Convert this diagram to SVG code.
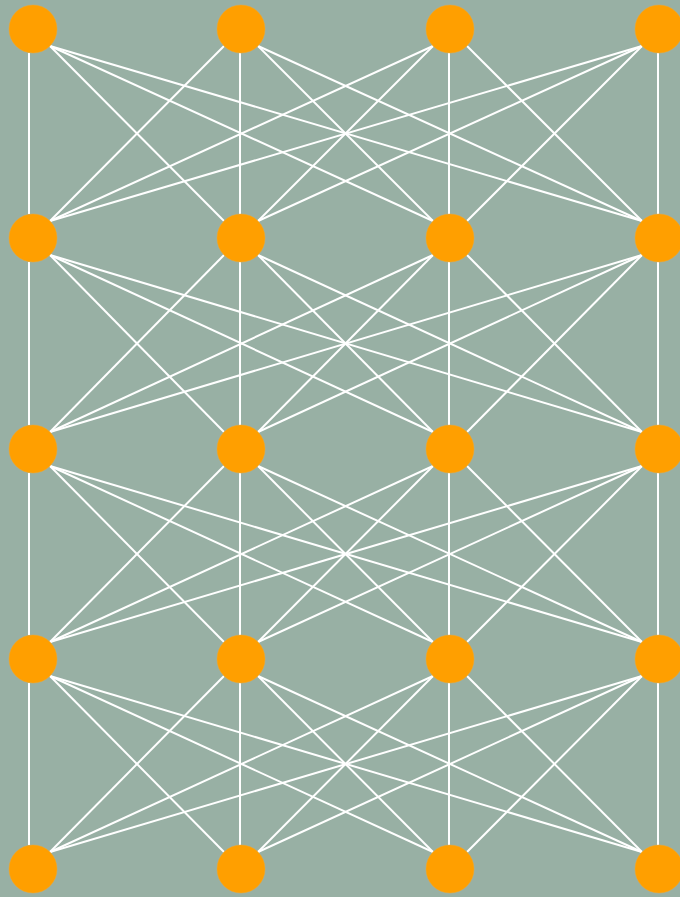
<svg xmlns="http://www.w3.org/2000/svg" width="680" height="897" viewBox="0 0 680 897">
<style>
.bg{fill:#98b0a4}
.n{fill:#ff9f00;stroke:#f5a62a;stroke-width:0.5}
.e line{stroke:#ffffff;stroke-width:2;stroke-linecap:butt}
</style>
<rect class="bg" x="0" y="0" width="680" height="897"/>
<g id="connectors" class="e">
<!-- layer 1 -> 2 -->
<line x1="29" y1="53" x2="29" y2="214"/>
<line x1="240" y1="53" x2="240" y2="214"/>
<line x1="449" y1="53" x2="449" y2="214"/>
<line x1="658" y1="53" x2="658" y2="214"/>
<line x1="50" y1="46" x2="224" y2="221"/>
<line x1="50" y1="46" x2="433" y2="221"/>
<line x1="50" y1="46" x2="642" y2="221"/>
<line x1="224" y1="46" x2="50" y2="221"/>
<line x1="258" y1="46" x2="433" y2="221"/>
<line x1="258" y1="46" x2="642" y2="221"/>
<line x1="433" y1="46" x2="50" y2="221"/>
<line x1="433" y1="46" x2="258" y2="221"/>
<line x1="467" y1="46" x2="642" y2="221"/>
<line x1="642" y1="46" x2="50" y2="221"/>
<line x1="642" y1="46" x2="258" y2="221"/>
<line x1="642" y1="46" x2="467" y2="221"/>
<!-- layer 2 -> 3 -->
<line x1="29" y1="262" x2="29" y2="425"/>
<line x1="240" y1="262" x2="240" y2="425"/>
<line x1="449" y1="262" x2="449" y2="425"/>
<line x1="658" y1="262" x2="658" y2="425"/>
<line x1="50" y1="255" x2="224" y2="432"/>
<line x1="50" y1="255" x2="433" y2="432"/>
<line x1="50" y1="255" x2="642" y2="432"/>
<line x1="224" y1="255" x2="50" y2="432"/>
<line x1="258" y1="255" x2="433" y2="432"/>
<line x1="258" y1="255" x2="642" y2="432"/>
<line x1="433" y1="255" x2="50" y2="432"/>
<line x1="433" y1="255" x2="258" y2="432"/>
<line x1="467" y1="255" x2="642" y2="432"/>
<line x1="642" y1="255" x2="50" y2="432"/>
<line x1="642" y1="255" x2="258" y2="432"/>
<line x1="642" y1="255" x2="467" y2="432"/>
<!-- layer 3 -> 4 -->
<line x1="29" y1="473" x2="29" y2="635"/>
<line x1="240" y1="473" x2="240" y2="635"/>
<line x1="449" y1="473" x2="449" y2="635"/>
<line x1="658" y1="473" x2="658" y2="635"/>
<line x1="50" y1="466" x2="224" y2="642"/>
<line x1="50" y1="466" x2="433" y2="642"/>
<line x1="50" y1="466" x2="642" y2="642"/>
<line x1="224" y1="466" x2="50" y2="642"/>
<line x1="258" y1="466" x2="433" y2="642"/>
<line x1="258" y1="466" x2="642" y2="642"/>
<line x1="433" y1="466" x2="50" y2="642"/>
<line x1="433" y1="466" x2="258" y2="642"/>
<line x1="467" y1="466" x2="642" y2="642"/>
<line x1="642" y1="466" x2="50" y2="642"/>
<line x1="642" y1="466" x2="258" y2="642"/>
<line x1="642" y1="466" x2="467" y2="642"/>
<!-- layer 4 -> 5 -->
<line x1="29" y1="683" x2="29" y2="845"/>
<line x1="240" y1="683" x2="240" y2="845"/>
<line x1="449" y1="683" x2="449" y2="845"/>
<line x1="658" y1="683" x2="658" y2="845"/>
<line x1="50" y1="676" x2="224" y2="852"/>
<line x1="50" y1="676" x2="433" y2="852"/>
<line x1="50" y1="676" x2="642" y2="852"/>
<line x1="224" y1="676" x2="50" y2="852"/>
<line x1="258" y1="676" x2="433" y2="852"/>
<line x1="258" y1="676" x2="642" y2="852"/>
<line x1="433" y1="676" x2="50" y2="852"/>
<line x1="433" y1="676" x2="258" y2="852"/>
<line x1="467" y1="676" x2="642" y2="852"/>
<line x1="642" y1="676" x2="50" y2="852"/>
<line x1="642" y1="676" x2="258" y2="852"/>
<line x1="642" y1="676" x2="467" y2="852"/>
</g>
<g id="n1-1"><circle class="n" cx="33" cy="29" r="24"/></g>
<g id="n1-2"><circle class="n" cx="241" cy="29" r="24"/></g>
<g id="n1-3"><circle class="n" cx="450" cy="29" r="24"/></g>
<g id="n1-4"><circle class="n" cx="659" cy="29" r="24"/></g>
<g id="n2-1"><circle class="n" cx="33" cy="238" r="24"/></g>
<g id="n2-2"><circle class="n" cx="241" cy="238" r="24"/></g>
<g id="n2-3"><circle class="n" cx="450" cy="238" r="24"/></g>
<g id="n2-4"><circle class="n" cx="659" cy="238" r="24"/></g>
<g id="n3-1"><circle class="n" cx="33" cy="449" r="24"/></g>
<g id="n3-2"><circle class="n" cx="241" cy="449" r="24"/></g>
<g id="n3-3"><circle class="n" cx="450" cy="449" r="24"/></g>
<g id="n3-4"><circle class="n" cx="659" cy="449" r="24"/></g>
<g id="n4-1"><circle class="n" cx="33" cy="659" r="24"/></g>
<g id="n4-2"><circle class="n" cx="241" cy="659" r="24"/></g>
<g id="n4-3"><circle class="n" cx="450" cy="659" r="24"/></g>
<g id="n4-4"><circle class="n" cx="659" cy="659" r="24"/></g>
<g id="n5-1"><circle class="n" cx="33" cy="869" r="24"/></g>
<g id="n5-2"><circle class="n" cx="241" cy="869" r="24"/></g>
<g id="n5-3"><circle class="n" cx="450" cy="869" r="24"/></g>
<g id="n5-4"><circle class="n" cx="659" cy="869" r="24"/></g>
</svg>
